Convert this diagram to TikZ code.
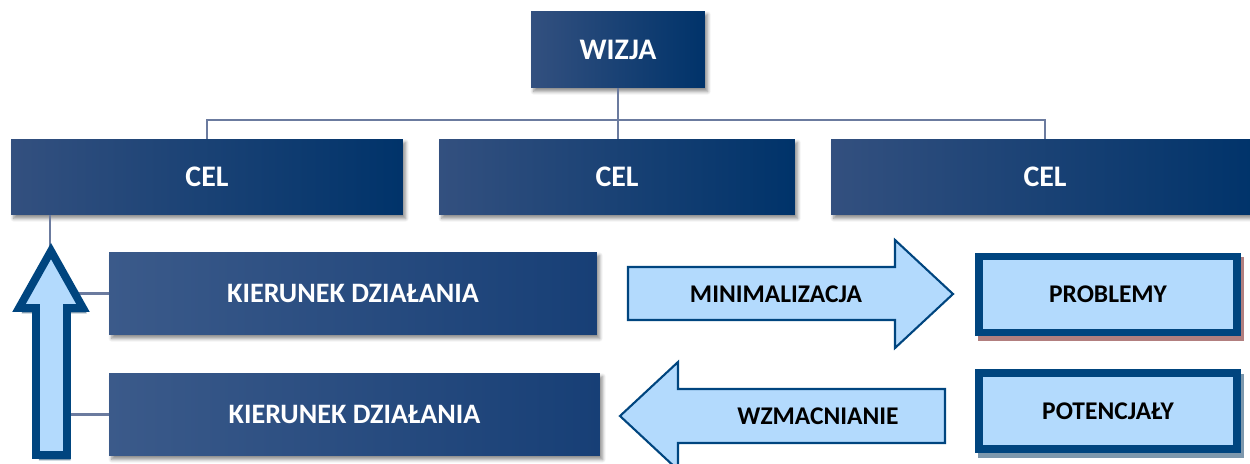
\documentclass[tikz,border=0pt]{standalone}
\usepackage{fontspec}
\setmainfont{Carlito}
\usetikzlibrary{shadows.blur}
\definecolor{ramka}{HTML}{00457F}
\definecolor{jasny}{HTML}{B3DAFD}
\definecolor{linia}{HTML}{6B7B9F}
\definecolor{cienszary}{HTML}{7D98AD}
\definecolor{cienczerw}{HTML}{B27F7F}
\definecolor{granatL}{HTML}{33507F}
\definecolor{granatP}{HTML}{00336A}
\definecolor{niebL}{HTML}{3B5A8A}
\definecolor{niebP}{HTML}{173F76}

\begin{document}
\begin{tikzpicture}[x=0.02cm, y=-0.02cm,
  every node/.style={font=\bfseries\fontsize{14.5}{17}\selectfont, outer sep=0pt},
  ciemny/.style={text=white, left color=granatL, right color=granatP,
    font=\bfseries\fontsize{17}{20}\selectfont,
    blur shadow={shadow xshift=1.5pt, shadow yshift=-2pt, shadow blur steps=6, shadow opacity=45}},
  kierunek/.style={text=white, left color=niebL, right color=niebP, minimum height=1.66cm,
    font=\bfseries\fontsize{16}{19}\selectfont,
    blur shadow={shadow xshift=1.5pt, shadow yshift=-2pt, shadow blur steps=6, shadow opacity=45}},
  cien/.style={preaction={draw=#1, fill=#1, transform canvas={xshift=1.8pt, yshift=-2.8pt}}},
  pole/.style={draw=ramka, line width=4.5pt, fill=jasny, text=black,
    minimum width=5.16cm, minimum height=1.52cm},
  strzalka/.style={draw=ramka, line width=1.2pt, fill=jasny},
  laczenie/.style={draw=linia, line width=1.4pt}]
 \useasboundingbox (0,0) rectangle (1250,463);
 % wizja i cele
 \node[ciemny, minimum width=3.48cm, minimum height=1.54cm] (wizja) at (618,49.5) {WIZJA};
 \node[ciemny, minimum width=7.84cm, minimum height=1.52cm] (cel1) at (207,177) {CEL};
 \node[ciemny, minimum width=7.12cm, minimum height=1.52cm] (cel2) at (617,177) {CEL};
 \node[ciemny, minimum width=8.56cm, minimum height=1.52cm] (cel3) at (1045,177) {CEL};
 \coordinate (szyna) at (618,120);
 \draw[laczenie] (wizja.south) -- (wizja.south |- cel2.north);
 \draw[laczenie] (cel1.north) |- (szyna) -| (cel3.north);
 % kierunki dzialania
 \node[kierunek, minimum width=9.76cm] (kd1) at (353,293.5) {KIERUNEK DZIAŁANIA};
 \node[kierunek, minimum width=9.82cm] (kd2) at (354.5,414.5) {KIERUNEK DZIAŁANIA};
 \coordinate (grzbiet) at (50,415);
 \draw[laczenie] (cel1.south -| grzbiet) -- (kd2.west -| grzbiet) -- (kd2.west);
 \draw[laczenie] (kd1.west -| grzbiet) -- (kd1.west);
 % strzalka w gore
 \draw[draw=ramka, line width=4.5pt, fill=jasny, cien=cienszary]
   (51,251) -- (83,308) -- (67,308) -- (67,455) -- (36,455) -- (36,308) -- (19,308) -- cycle;
 % minimalizacja / wzmacnianie
 \draw[strzalka] (628,267) -- (895,267) -- (895,240) -- (953,294) -- (895,348) -- (895,320) -- (628,320) -- cycle;
 \node (minim) at (776,294) {MINIMALIZACJA};
 \draw[strzalka] (945,389) -- (678,389) -- (678,362) -- (620,416) -- (678,470) -- (678,443) -- (945,443) -- cycle;
 \node (wzm) at (818,416) {WZMACNIANIE};
 % problemy i potencjaly
 \node[pole, cien=cienczerw] (probl) at (1108,294.5) {PROBLEMY};
 \node[pole, cien=cienszary] (poten) at (1108,411) {POTENCJAŁY};
\end{tikzpicture}
\end{document}
